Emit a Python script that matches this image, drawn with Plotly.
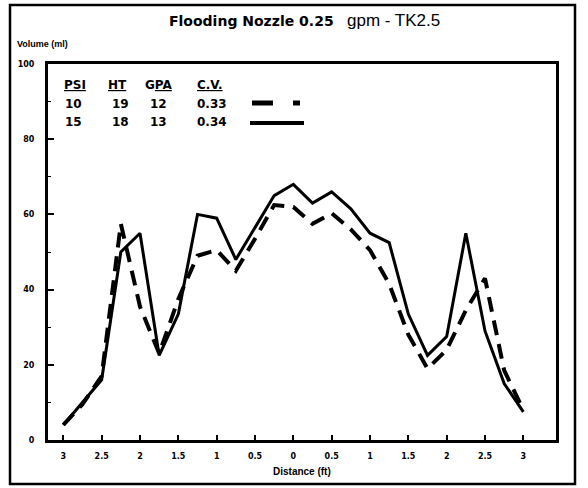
import plotly.graph_objects as go

# ---- data ----
x_ft = [-3, -2.75, -2.5, -2.25, -2, -1.75, -1.5, -1.25, -1, -0.75, -0.5, -0.25, 0,
        0.25, 0.5, 0.75, 1, 1.25, 1.5, 1.75, 2, 2.25, 2.5, 2.75, 3]
vol_15psi = [4, 10, 16, 50, 55, 22.5, 33.5, 60, 59, 48, 56.5, 65, 68,
             63, 66, 61.5, 55, 52.5, 33.5, 22.5, 27.5, 55, 29, 15, 7.5]
vol_10psi = [4, 9.5, 17, 57.5, 35.5, 23, 37.5, 49, 50.5, 45, 53.5, 62.5, 62,
             57.5, 60.3, 56, 50.5, 41.5, 28, 19, 24, 34.5, 43, 18.5, 8]

x_tickvals = [-3, -2.5, -2, -1.5, -1, -0.5, 0, 0.5, 1, 1.5, 2, 2.5, 3]
x_ticktext = ["3", "2.5", "2", "1.5", "1", "0.5", "0", "0.5", "1", "1.5", "2", "2.5", "3"]
y_tickvals = [0, 20, 40, 60, 80, 100]
y_ticktext = ["0", "20", "40", "60", "80", "100"]

table_header = ["<u>PSI</u>", "<u>HT</u>", "G<u>PA</u>", "<u>C.V.</u>"]
psi = ["10", "15"]
ht = ["19", "18"]
gpa = ["12", "13"]
cv = ["0.33", "0.34"]

title_left = "Flooding Nozzle 0.25"
title_right = "gpm - TK2.5"
y_title = "Volume (ml)"
x_title = "Distance (ft)"

# ---- layout geometry (pixels) ----
W, H = 588, 488
L, R, T, B = 48, 32, 64, 48
PW, PH = W - L - R, H - T - B


def fx(px):
    return (px - L) / PW


def fy(py):
    return (H - B - py) / PH


fig = go.Figure()
fig.add_trace(go.Scatter(x=x_ft, y=vol_15psi, mode="lines",
                         line=dict(color="black", width=3), showlegend=False))
fig.add_trace(go.Scatter(x=x_ft, y=vol_10psi, mode="lines",
                         line=dict(color="black", width=4, dash="15px,9px"),
                         showlegend=False))

tick_font = dict(family="DejaVu Sans", size=8, color="black", weight="bold")

fig.update_layout(
    width=W, height=H,
    margin=dict(l=L, r=R, t=T, b=B),
    paper_bgcolor="white", plot_bgcolor="white",
    showlegend=False,
    xaxis=dict(range=[-3.2, 3.426], tickvals=x_tickvals, ticktext=x_ticktext,
               showline=True, mirror=True, linewidth=3, linecolor="black",
               ticks="inside", ticklen=5, tickwidth=1.5, tickcolor="black",
               showgrid=False, zeroline=False, tickfont=tick_font,
               ticklabelstandoff=6),
    yaxis=dict(range=[0, 100], tickvals=y_tickvals, ticktext=y_ticktext,
               showline=True, mirror=True, linewidth=3, linecolor="black",
               ticks="inside", ticklen=6, tickwidth=1.5, tickcolor="black",
               minor=dict(tickvals=[10, 30, 50, 70, 90], ticks="inside", ticklen=3,
                          tickwidth=1, tickcolor="black"),
               showgrid=False, zeroline=False, tickfont=tick_font,
               ticklabelstandoff=9),
)

shapes = []
# outer frame
shapes.append(dict(type="rect", xref="paper", yref="paper",
                   x0=fx(10), x1=fx(575), y0=fy(484), y1=fy(5),
                   line=dict(color="black", width=2.5), layer="below"))
# legend keys
shapes.append(dict(type="line", xref="paper", yref="paper",
                   x0=fx(252), x1=fx(273), y0=fy(103), y1=fy(103),
                   line=dict(color="black", width=5)))
shapes.append(dict(type="line", xref="paper", yref="paper",
                   x0=fx(293), x1=fx(300), y0=fy(103), y1=fy(103),
                   line=dict(color="black", width=5)))
shapes.append(dict(type="line", xref="paper", yref="paper",
                   x0=fx(250), x1=fx(304), y0=fy(123), y1=fy(123),
                   line=dict(color="black", width=4)))
fig.update_layout(shapes=shapes)

ann = []
ann.append(dict(text=title_left, x=fx(336), y=fy(21), xanchor="right", yanchor="middle",
                font=dict(family="DejaVu Sans", size=14, color="black", weight="bold")))
ann.append(dict(text=title_right, x=fx(345), y=fy(20), xanchor="left", yanchor="middle",
                font=dict(family="Liberation Sans", size=17, color="black")))
ann.append(dict(text=y_title, x=fx(15), y=fy(44), xanchor="left", yanchor="middle",
                font=dict(family="Liberation Sans", size=9, color="black", weight="bold")))
ann.append(dict(text=x_title, x=fx(302), y=fy(471), xanchor="center", yanchor="middle",
                font=dict(family="Liberation Sans", size=10, color="black", weight="bold")))

cell_font = dict(family="DejaVu Sans", size=12, color="black", weight="bold")
for cx, h in zip([62, 106, 143, 195], table_header):
    ann.append(dict(text=h, x=fx(cx), y=fy(85), xanchor="left", yanchor="middle",
                    font=cell_font))
row_y = [104, 122]
for i in range(2):
    for cx, val in zip([63, 110, 148, 195], [psi[i], ht[i], gpa[i], cv[i]]):
        ann.append(dict(text=val, x=fx(cx), y=fy(row_y[i]), xanchor="left",
                        yanchor="middle", font=cell_font))

for a in ann:
    a.update(xref="paper", yref="paper", showarrow=False)
fig.update_layout(annotations=ann)

fig.write_html("out.html")
